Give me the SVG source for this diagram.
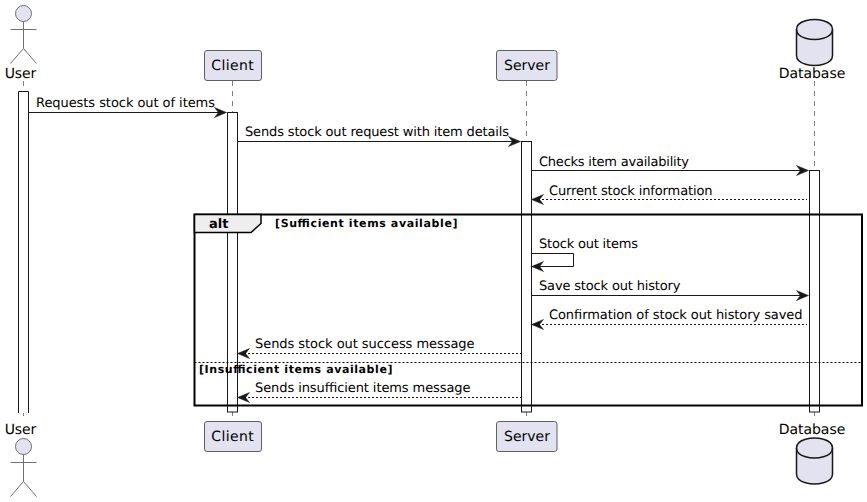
<svg xmlns="http://www.w3.org/2000/svg" width="867" height="502" viewBox="0 0 867 502">
<style>
text{font-family:"DejaVu Sans",sans-serif;fill:#000;text-rendering:geometricPrecision}
.name{font-size:14px;text-anchor:middle}
.msg{font-size:13px}
.life{stroke:#808080;stroke-width:1;stroke-dasharray:5 5;fill:none}
.act{fill:#fff;stroke:#181818;stroke-width:1}
.box{fill:#E2E2F0;stroke:#5f5f5f;stroke-width:1}
.stick{fill:none;stroke:#6f6f6f;stroke-width:1}
.head{fill:#E2E2F0;stroke:#6f6f6f;stroke-width:1}
.db{fill:#E2E2F0;stroke:#181818;stroke-width:1.5}
.dbl{fill:none;stroke:#181818;stroke-width:1.5}
.c{fill:none;stroke:#181818;stroke-width:1}
.d{stroke-dasharray:2 2}
.ah{fill:#181818;stroke:#181818;stroke-width:.5}
.frame{fill:none;stroke:#000;stroke-width:2}
.sep{stroke:#000;stroke-width:1;stroke-dasharray:2 2}
.guard{font-size:11px;font-weight:bold}
</style>
<defs>
<g id="hr"><path class="ah" d="M0 0L-12 -5L-8 0L-12 5Z"/></g>
<g id="hl"><path class="ah" d="M0 0L12 -5L8 0L12 5Z"/></g>
</defs>
<g id="lifelines">
<line class="life" x1="23.5" y1="81" x2="23.5" y2="420"/>
<line class="life" x1="232.5" y1="81" x2="232.5" y2="420"/>
<line class="life" x1="526.5" y1="81" x2="526.5" y2="420"/>
<line class="life" x1="814.5" y1="81" x2="814.5" y2="420"/>
</g>
<g id="activations">
<path class="act" d="M18.5 413V91.500H28.500V413"/>
<rect class="act" x="227.500" y="112.500" width="10" height="299.500"/>
<rect class="act" x="521.500" y="141.500" width="10" height="270.500"/>
<rect class="act" x="809.500" y="170.500" width="10" height="241.500"/>
</g>
<g id="fragment">
<rect class="frame" x="194.500" y="214.500" width="667.500" height="191"/>
<path d="M194.500 214.500H261V223.500L251 232.500H194.500Z" fill="#EEEEEE" stroke="#000" stroke-width="1.500"/>
<text x="209" y="228" font-size="13" font-weight="bold">alt</text>
<text class="guard" x="275" y="227" textLength="182.500">[Sufficient items available]</text>
<line class="sep" x1="194.500" y1="362.500" x2="862" y2="362.500"/>
<text class="guard" x="199" y="373" textLength="193.500">[Insufficient items available]</text>
</g>
<g id="connectors">
<line class="c" x1="28.500" y1="112.500" x2="220" y2="112.500"/><use href="#hr" x="226.500" y="112.500"/>
<line class="c" x1="237.500" y1="141.500" x2="514" y2="141.500"/><use href="#hr" x="520.500" y="141.500"/>
<line class="c" x1="531.500" y1="170.500" x2="802" y2="170.500"/><use href="#hr" x="808.500" y="170.500"/>
<line class="c d" x1="538" y1="199.500" x2="807" y2="199.500"/><use href="#hl" x="531.500" y="199.500"/>
<path class="c" d="M531.500 253.500H573.500V266.500H538"/><use href="#hl" x="531.500" y="266.500"/>
<line class="c" x1="531.500" y1="295.500" x2="802" y2="295.500"/><use href="#hr" x="808.500" y="295.500"/>
<line class="c d" x1="538" y1="324.500" x2="807" y2="324.500"/><use href="#hl" x="531.500" y="324.500"/>
<line class="c d" x1="244" y1="353.500" x2="521" y2="353.500"/><use href="#hl" x="237.500" y="353.500"/>
<line class="c d" x1="244" y1="397.500" x2="521" y2="397.500"/><use href="#hl" x="237.500" y="397.500"/>
<g class="labels">
<text class="msg" x="36" y="107" textLength="179">Requests stock out of items</text>
<text class="msg" x="245" y="136" textLength="264">Sends stock out request with item details</text>
<text class="msg" x="539" y="166" textLength="150">Checks item availability</text>
<text class="msg" x="549" y="195" textLength="163.500">Current stock information</text>
<text class="msg" x="539" y="248" textLength="99">Stock out items</text>
<text class="msg" x="539" y="290" textLength="141.500">Save stock out history</text>
<text class="msg" x="549" y="319" textLength="253.500">Confirmation of stock out history saved</text>
<text class="msg" x="255" y="348" textLength="219.500">Sends stock out success message</text>
<text class="msg" x="255" y="392" textLength="215.500">Sends insufficient items message</text>
</g>
</g>
<g id="user-top">
<circle class="head" cx="23.500" cy="13.500" r="8"/>
<path class="stick" d="M23.500 21.500V48.500M10.500 29.500H36.500M23.500 48.500L10.500 63.500M23.500 48.500L36.500 63.500"/>
<text class="name" x="20.500" y="77.500" textLength="31.500">User</text>
</g>
<g id="client-top">
<rect class="box" x="204.500" y="50.500" width="57" height="30" rx="2.500"/>
<text class="name" x="232.500" y="70" textLength="42.500">Client</text>
</g>
<g id="server-top">
<rect class="box" x="496.500" y="50.500" width="60.500" height="30" rx="2.500"/>
<text class="name" x="527" y="70" textLength="46">Server</text>
</g>
<g id="database-top">
<path class="db" d="M796.500 29.500C796.500 19.500 814.500 19.500 814.500 19.500C814.500 19.500 832.500 19.500 832.500 29.500V55.500C832.500 65.500 814.500 65.500 814.500 65.500C814.500 65.500 796.500 65.500 796.500 55.500Z"/>
<path class="dbl" d="M796.500 29.500C796.500 39.500 814.500 39.500 814.500 39.500C814.500 39.500 832.500 39.500 832.500 29.500"/>
<text class="name" x="812" y="77.500" textLength="66.500">Database</text>
</g>
<g id="user-bottom">
<text class="name" x="20.500" y="434" textLength="31.500">User</text>
<circle class="head" cx="23.500" cy="446.500" r="8"/>
<path class="stick" d="M23.500 454.500V481.500M10.500 462.500H36.500M23.500 481.500L10.500 496.500M23.500 481.500L36.500 496.500"/>
</g>
<g id="client-bottom">
<rect class="box" x="204.500" y="421.500" width="57" height="30" rx="2.500"/>
<text class="name" x="232.500" y="441" textLength="42.500">Client</text>
</g>
<g id="server-bottom">
<rect class="box" x="496.500" y="421.500" width="60.500" height="30" rx="2.500"/>
<text class="name" x="527" y="441" textLength="46">Server</text>
</g>
<g id="database-bottom">
<text class="name" x="812" y="434" textLength="66.500">Database</text>
<path class="db" d="M796.500 448C796.500 438 814.500 438 814.500 438C814.500 438 832.500 438 832.500 448V474C832.500 484 814.500 484 814.500 484C814.500 484 796.500 484 796.500 474Z"/>
<path class="dbl" d="M796.500 448C796.500 458 814.500 458 814.500 458C814.500 458 832.500 458 832.500 448"/>
</g>
</svg>
